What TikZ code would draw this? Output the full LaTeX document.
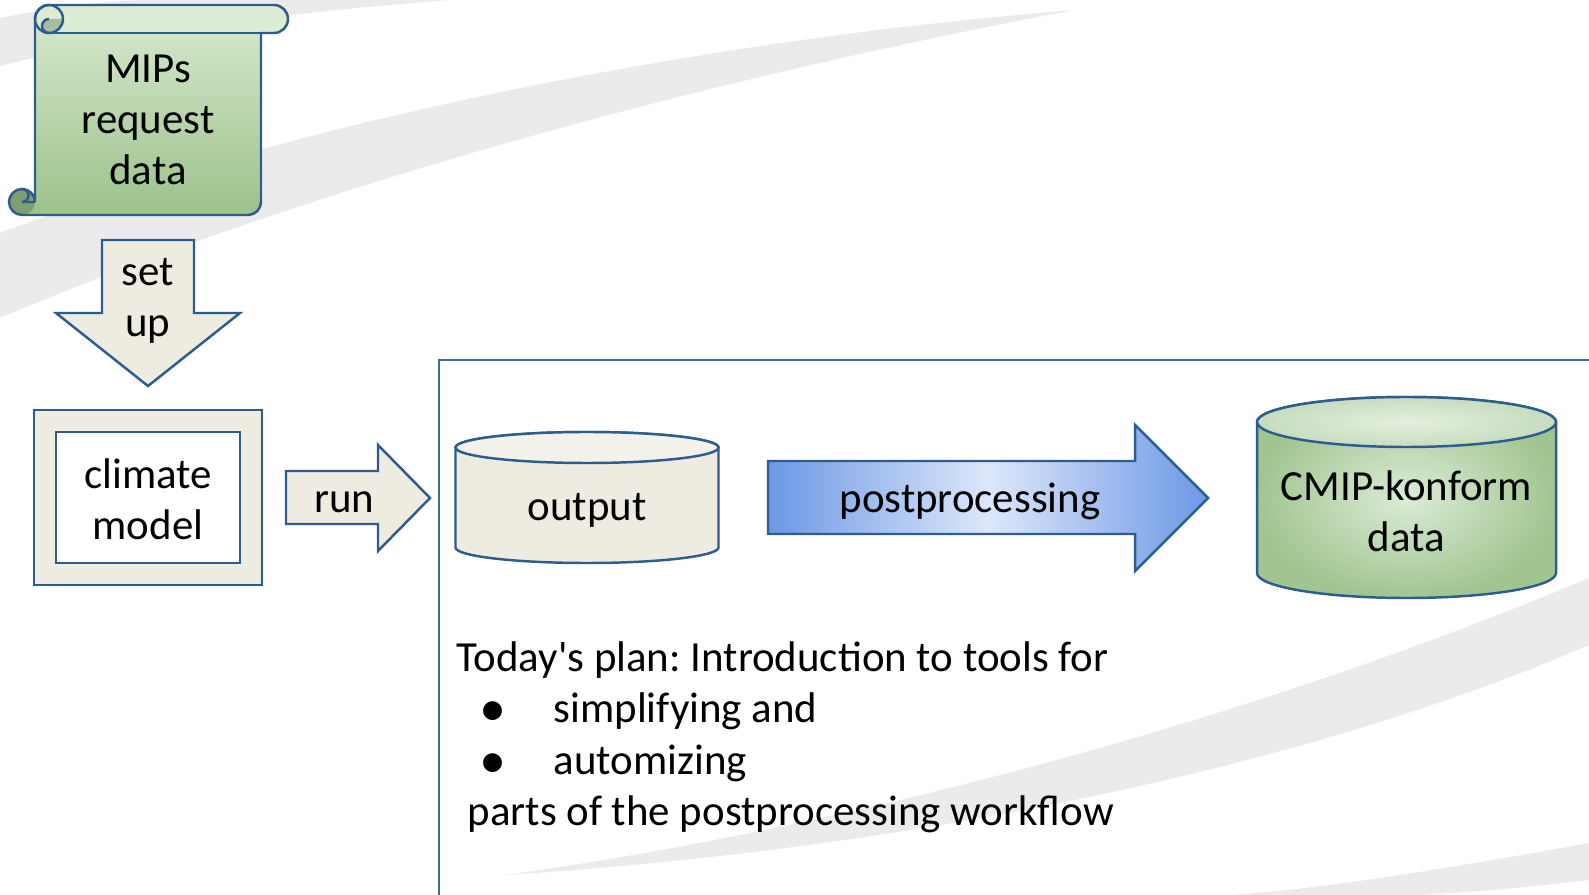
\documentclass[tikz,border=0pt]{standalone}
\usepackage{fontspec}
\setmainfont{Carlito}
\newfontfamily\symfont{DejaVu Sans}
\usetikzlibrary{positioning}
\frenchspacing

\definecolor{edgeblue}{HTML}{2E5C8F}
\definecolor{frameblue}{HTML}{3F6AA6}
\definecolor{tan}{HTML}{EEECE1}
\definecolor{tanlight}{HTML}{F2F1EA}
\definecolor{greentop}{HTML}{DAEAD1}
\definecolor{greenbot}{HTML}{9BC28A}
\definecolor{greenroll}{HTML}{DCEBD4}
\definecolor{curlgreen}{HTML}{A9BC9E}
\definecolor{curldark}{HTML}{7E9D70}
\definecolor{arrowblue}{HTML}{6C98E4}
\definecolor{arrowlight}{HTML}{DDE7FA}
\definecolor{cylin}{HTML}{DCECD6}
\definecolor{cylout}{HTML}{A1C591}
\definecolor{swooshgray}{HTML}{EBEBEB}

\tikzset{
  outline/.style={draw=edgeblue, line width=0.7pt},
  boxtext/.style={font=\fontsize{12.2}{14.6}\selectfont, align=center, inner sep=0pt},
  listtext/.style={font=\fontsize{12.2}{14.6}\selectfont, anchor=base west, inner sep=0pt},
  swoosh/.style={fill=swooshgray},
}

\begin{document}
\begin{tikzpicture}[x=0.01cm, y=-0.01cm]
  \useasboundingbox (0,0) rectangle (1589,895);

  % background swooshes
  \fill[swoosh] (0,18) .. controls (50,8) and (100,2) .. (140,0) -- (450,0)
    .. controls (250,15) and (100,40) .. (0,66) -- cycle;
  \fill[swoosh] (0,233) .. controls (300,120) and (700,40) .. (1075,10)
    .. controls (700,80) and (300,190) .. (0,318) -- cycle;
  \fill[swoosh] (1589,578) .. controls (1300,700) and (900,820) .. (505,875)
    .. controls (900,850) and (1300,770) .. (1589,645) -- cycle;
  \fill[swoosh] (1589,843) .. controls (1450,868) and (1330,888) .. (1230,895)
    -- (1420,895) .. controls (1500,890) .. (1589,880) -- cycle;

  % scroll
  \shade[top color=greentop, bottom color=greenbot]
    (49,5) -- (274,5) arc[start angle=-90, end angle=90, radius=14] -- (261,33)
    -- (261,202) arc[start angle=0, end angle=90, radius=13] -- (22,215)
    arc[start angle=90, end angle=360, radius=13] -- (35,19)
    arc[start angle=180, end angle=270, radius=14] -- cycle;
  \fill[greenroll] (49,5) -- (274,5) arc[start angle=-90, end angle=90, radius=14]
    -- (49,33) -- cycle;
  \fill[greenroll] (49,19) circle[radius=14];
  \fill[curldark] (22,202) circle[radius=13];
  \fill[curlgreen] (49,19) arc[start angle=270, end angle=90, radius=7]
    arc[start angle=90, end angle=0, radius=14] -- cycle;
  \draw[outline]
    (49,5) -- (274,5) arc[start angle=-90, end angle=90, radius=14] -- (261,33)
    -- (261,202) arc[start angle=0, end angle=90, radius=13] -- (22,215)
    arc[start angle=90, end angle=360, radius=13] -- (35,19)
    arc[start angle=180, end angle=270, radius=14] -- cycle;
  \draw[outline] (49,19) circle[radius=14];
  \draw[outline] (49,33) -- (261,33);
  \draw[outline] (49,19) arc[start angle=270, end angle=90, radius=7];
  \draw[outline] (22,189) arc[start angle=270, end angle=450, radius=6.5] -- (35,202);
  \node[boxtext] (mips) at (148,120) {MIPs\\request\\data};

  % set up
  \filldraw[fill=tan, outline] (102,240) -- (194,240) -- (194,313) -- (240,313)
    -- (148,386) -- (56,313) -- (102,313) -- cycle;
  \node[boxtext] (setup) at (148,301) {set\\up};

  % climate model
  \filldraw[fill=tan, outline] (34,410) rectangle (262,585);
  \filldraw[fill=white, outline] (56,432) rectangle (240,563);
  \node[boxtext] (model) at (148,499) {climate\\model};

  % run
  \filldraw[fill=tan, outline] (286,471) -- (378,471) -- (378,445) -- (430,498)
    -- (378,551) -- (378,524) -- (286,524) -- cycle;
  \node[boxtext, anchor=base] (run) at (344.5,513) {run};

  % frame
  \draw[frameblue, line width=0.6pt] (439,900) -- (439,360) -- (1595,360);

  % output
  \filldraw[fill=tan, outline] (455.5,447.5) -- (455.5,547.5)
    arc[start angle=180, end angle=0, x radius=131.5, y radius=15.5]
    -- (718.5,447.5) arc[start angle=0, end angle=-180, x radius=131.5, y radius=15.5] -- cycle;
  \filldraw[fill=tanlight, outline] (587,447.5) ellipse[x radius=131.5, y radius=15.5];
  \node[boxtext, anchor=base] (output) at (587,521) {output};

  % postprocessing
  \shade[left color=arrowblue, right color=arrowblue, middle color=arrowlight]
    (768,461) -- (1135,461) -- (1135,425) -- (1208,498) -- (1135,571)
    -- (1135,534) -- (768,534) -- cycle;
  \draw[outline] (768,461) -- (1135,461) -- (1135,425) -- (1208,498) -- (1135,571)
    -- (1135,534) -- (768,534) -- cycle;
  \node[boxtext, anchor=base] (post) at (970,513) {postprocessing};

  % CMIP data
  \shade[inner color=cylin, outer color=cylout] (1257,422) -- (1257,573)
    arc[start angle=180, end angle=0, x radius=149.5, y radius=25]
    -- (1556,422) arc[start angle=0, end angle=-180, x radius=149.5, y radius=25] -- cycle;
  \draw[outline] (1257,422) -- (1257,573)
    arc[start angle=180, end angle=0, x radius=149.5, y radius=25]
    -- (1556,422) arc[start angle=0, end angle=-180, x radius=149.5, y radius=25] -- cycle;
  \shade[inner color=cylin!80!white, outer color=cylout!60!white] (1406.5,422) ellipse[x radius=149.5, y radius=25];
  \draw[outline] (1406.5,422) ellipse[x radius=149.5, y radius=25];
  \node[boxtext] (cmip) at (1406.5,511) {CMIP-konform\\data};

  % plan
  \node[listtext] (plan) at (456,671) {Today\textquotesingle s plan: Introduction to tools for};
  \foreach \y/\word [count=\i] in {722.5/simplifying and, 774/automizing} {
    \node[inner sep=0pt, font=\symfont\fontsize{7}{8}\selectfont] (dot\i) at (492.5,\y-11) {●};
    \node[listtext] (item\i) at (553,\y) {\word};
  }
  \node[listtext] (parts) at (467,825.5) {parts of the postprocessing workflow};
\end{tikzpicture}
\end{document}
